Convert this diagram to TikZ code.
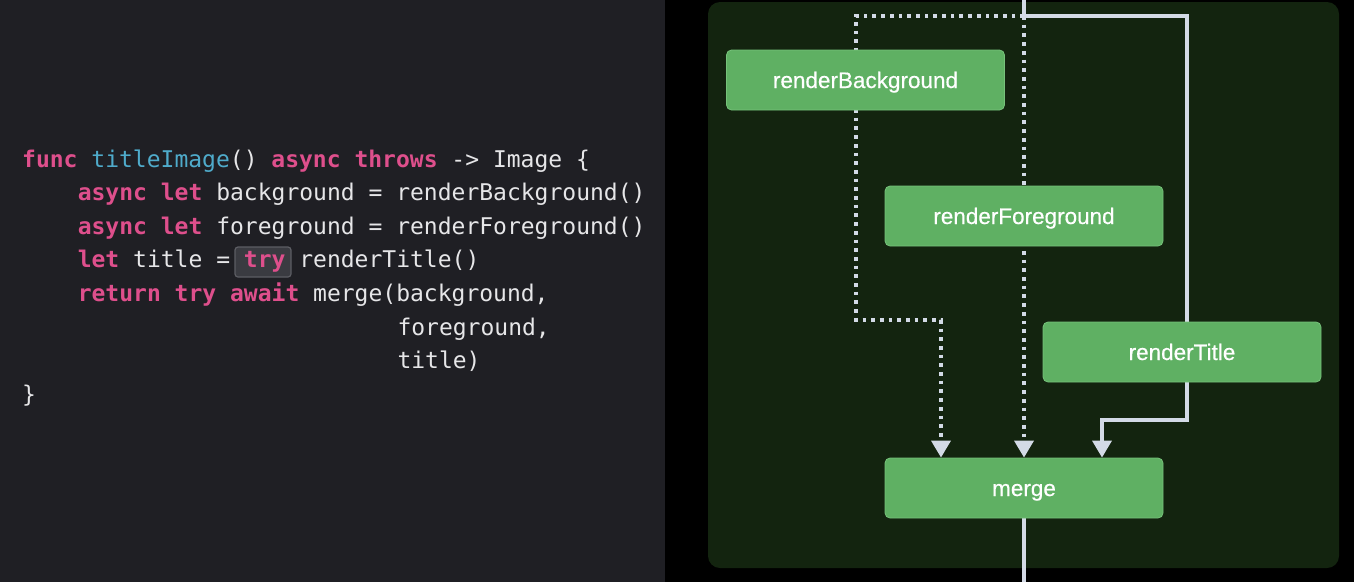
\documentclass[tikz,border=0pt]{standalone}
\usepackage{fontspec}
\setmainfont{Liberation Sans}
\setmonofont{DejaVu Sans Mono}
\newfontfamily\taskfont[FakeBold=0.4]{Liberation Sans}
\usetikzlibrary{arrows.meta,positioning,calc}
\definecolor{editorbg}{HTML}{1F1F24}
\definecolor{codetext}{HTML}{E6E6E8}
\definecolor{keypink}{HTML}{DE4F8C}
\definecolor{declblue}{HTML}{4FABCB}
\definecolor{hlfill}{HTML}{3A3B41}
\definecolor{hlline}{HTML}{5C5D63}
\definecolor{panel}{HTML}{13240F}
\definecolor{green1}{HTML}{5FB063}
\definecolor{green2}{HTML}{76C27A}
\definecolor{wire}{HTML}{D3DAE6}
\pgfdeclarelayer{back}
\pgfdeclarelayer{wires}
\pgfsetlayers{back,wires,main}
\newcommand{\kw}[1]{\textcolor{keypink}{\bfseries #1}}
\newcommand{\fn}[1]{\textcolor{declblue}{#1}}

\begin{document}
\begin{tikzpicture}[x=1pt,y=-1pt,
    codeline/.style={anchor=base west,inner sep=0pt,text=codetext,
                     font=\ttfamily\fontsize{23}{23}\selectfont},
    trybox/.style={draw=hlline,fill=hlfill,rounded corners=3pt,line width=1.2pt,
                   minimum width=56pt,minimum height=30pt,inner sep=0pt},
    task/.style={draw=green2,fill=green1,rounded corners=5pt,line width=0.8pt,
                 minimum width=278pt,minimum height=60pt,inner sep=0pt,text=white,
                 text height=16pt,text depth=0pt,
                 font=\taskfont\fontsize{22.5}{22.5}\selectfont},
    solidwire/.style={wire,line width=3.6pt},
    dotwire/.style={wire,line width=3.7pt,dash pattern=on 3.7pt off 5pt},
    tip/.style={-{Triangle[width=19pt,length=17pt]}}]
  \useasboundingbox (0,0) rectangle (1354,582);
  % backgrounds
  \begin{pgfonlayer}{back}
    \fill[editorbg] (0,0) rectangle (665,582);
    \fill[black] (665,0) rectangle (1354,582);
    \fill[panel,rounded corners=12pt] (708,2) rectangle (1339,568);
  \end{pgfonlayer}

  % code
  \node[trybox] (tryhl) at (263,262) {};
  \node[codeline] (l1) at (22,167) {\kw{func} \fn{titleImage}() \kw{async} \kw{throws} -> Image \{};
  \node[codeline] (l2) at (77.6,200.6) {\kw{async} \kw{let} background = renderBackground()};
  \node[codeline] (l3) at (77.6,234.2) {\kw{async} \kw{let} foreground = renderForeground()};
  \node[codeline] (l4) at (77.6,267.8) {\kw{let} title = \kw{try} renderTitle()};
  \node[codeline] (l5) at (77.6,301.4) {\kw{return} \kw{try} \kw{await} merge(background,};
  \node[codeline] (l6) at (397.3,335) {foreground,};
  \node[codeline] (l7) at (397.3,368.6) {title)};
  \node[codeline] (l8) at (22,402.2) {\}};

  % tasks
  \node[task] (bgtask) at (865.5,80) {renderBackground};
  \node[task] (fgtask) at (1024,216) {renderForeground};
  \node[task] (tttask) at (1182,352) {renderTitle};
  \node[task] (mgtask) at (1024,488) {merge};

  \coordinate (entry) at (1024,0);
  \coordinate (split) at (1024,16);
  \coordinate (exit) at (1024,582);

  % connectors
  \begin{pgfonlayer}{wires}
    \draw[solidwire] (entry) -- (split);
    \draw[solidwire,tip] (split) -| (1187,420) -| ([xshift=78]mgtask.north);
    \draw[dotwire,tip] (split) -| (856,320) -| ([xshift=-83]mgtask.north);
    \draw[dotwire,tip] (split) -- (mgtask.north);
    \draw[solidwire] (mgtask.south) -- (exit);
  \end{pgfonlayer}
\end{tikzpicture}
\end{document}
